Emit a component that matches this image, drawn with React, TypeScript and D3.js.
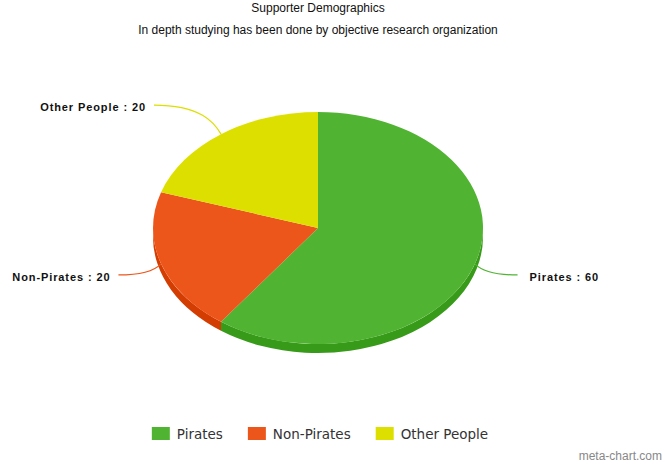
import React, { useMemo } from "react";
import * as d3 from "d3";

const categories = ["Pirates", "Non-Pirates", "Other People"];
const values = [60, 20, 20];
const colors = ["#50B432", "#ED561B", "#DDDF00"];
const titleText = "Supporter Demographics";
const subtitleText = "In depth studying has been done by objective research organization";
const creditText = "meta-chart.com";

const W = 665;
const H = 464;
const cx = 318;
const cy = 228;
const rx = 165;
const ry = 116;
const depth = 9;
const labelR = 205;
const labelRy = 152;

function pt(a: number, dy: number): [number, number] {
  return [cx + rx * Math.sin(a), cy - ry * Math.cos(a) + dy];
}

function sideColor(c: string) {
  const r = d3.rgb(c);
  return d3.rgb(Math.max(0, r.r - 25), Math.max(0, r.g - 25), Math.max(0, r.b - 25)).formatHex();
}

function measure(text: string, font: string) {
  const cvs = document.createElement("canvas");
  const ctx = cvs.getContext("2d")!;
  ctx.font = font;
  return ctx.measureText(text).width;
}

export default function App() {
  const arcs = d3.pie<number>().sort(null).value((d) => d)(values);
  const arcGen = d3.arc<d3.PieArcDatum<number>>().innerRadius(0).outerRadius(rx);

  const legendSize = 13.5;
  const legendFont = `${legendSize}px 'DejaVu Sans'`;
  const legendItems = useMemo(() => {
    const sym = 18, gap = 7, dist = 25;
    const widths = categories.map((c) => sym + gap + measure(c, legendFont) + dist);
    const total = d3.sum(widths);
    let x = W / 2 - total / 2;
    return categories.map((c, i) => {
      const item = { name: c, x, color: colors[i] };
      x += widths[i];
      return item;
    });
  }, []);

  const sides = arcs
    .map((a, i) => {
      const s = Math.max(a.startAngle, Math.PI / 2);
      const e = Math.min(a.endAngle, (3 * Math.PI) / 2);
      if (e <= s) return null;
      const p0 = pt(s, 0), p1 = pt(e, 0), p2 = pt(e, depth), p3 = pt(s, depth);
      const large = e - s > Math.PI ? 1 : 0;
      const d = `M${p0[0]},${p0[1]} A${rx},${ry} 0 ${large} 1 ${p1[0]},${p1[1]} L${p2[0]},${p2[1]} A${rx},${ry} 0 ${large} 0 ${p3[0]},${p3[1]} Z`;
      return <path key={"s" + i} d={d} fill={sideColor(colors[i])} />;
    })
    .filter(Boolean);

  const labels = arcs.map((a, i) => {
    const mid = (a.startAngle + a.endAngle) / 2;
    const right = Math.sin(mid) >= 0;
    const p = pt(mid, 0);
    const ly = cy - labelRy * Math.cos(mid);
    const dxl = Math.sqrt(Math.max(0, labelR * labelR - (ly - cy) * (ly - cy)));
    const lx = right ? cx + dxl : cx - dxl;
    const c1x = lx + 0.7 * (p[0] - lx);
    const c2x = p[0] - 0.1 * (p[0] - lx);
    const c2y = p[1] - 0.4 * (p[1] - ly);
    const d = `M${lx},${ly} C${c1x},${ly} ${c2x},${c2y} ${p[0]},${p[1]}`;
    const tx = right ? lx + 12 : lx - 8;
    return (
      <g key={"l" + i}>
        <path d={d} fill="none" stroke={colors[i]} strokeWidth={1.2} />
        <text
          x={tx}
          y={ly + 6}
          textAnchor={right ? "start" : "end"}
          fontFamily="'Liberation Sans', Arial, sans-serif"
          fontWeight="bold"
          fontSize={11}
          letterSpacing={0.9}
          fill="#111"
        >
          {`${categories[i]} : ${values[i]}`}
        </text>
      </g>
    );
  });

  return (
    <svg
      width={W}
      height={H}
      style={{ position: "absolute", left: 0, top: 0, background: "#fff" }}
    >
      <rect width={W} height={H} fill="#fff" />
      <text x={318} y={12} textAnchor="middle" fontFamily="'Liberation Sans', Arial, sans-serif" fontSize={12} fill="#111">
        {titleText}
      </text>
      <text x={318} y={34} textAnchor="middle" fontFamily="'Liberation Sans', Arial, sans-serif" fontSize={12} fill="#111">
        {subtitleText}
      </text>
      {sides}
      <g transform={`translate(${cx},${cy}) scale(1,${ry / rx})`}>
        {arcs.map((a, i) => (
          <path key={"t" + i} d={arcGen(a) || ""} fill={colors[i]} />
        ))}
      </g>
      {labels}
      {legendItems.map((it, i) => (
        <g key={"lg" + i}>
          <rect x={it.x} y={427} width={18} height={13} fill={it.color} />
          <text x={it.x + 25} y={439} fontFamily="'DejaVu Sans', Verdana, sans-serif" fontSize={legendSize} fill="#333">
            {it.name}
          </text>
        </g>
      ))}
      <text x={662} y={460} textAnchor="end" fontFamily="'Liberation Sans', Arial, sans-serif" fontSize={12} fill="#888">
        {creditText}
      </text>
    </svg>
  );
}
